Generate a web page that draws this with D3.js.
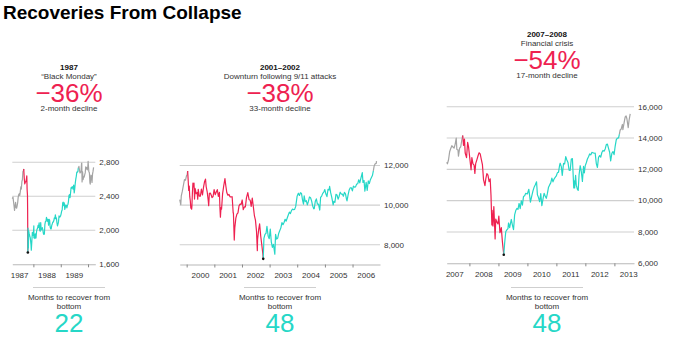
<!DOCTYPE html>
<html>
<head>
<meta charset="utf-8">
<script src="https://cdn.jsdelivr.net/npm/d3@7"></script>
<style>
  body { margin: 0; background: #fff; }
  svg { font-family: 'Liberation Sans', Arial, sans-serif; }
</style>
</head>
<body>
<svg id="chart" width="680" height="340"></svg>
<script>
/* global d3 */

/* ***
  data: Dow Jones closes, [date, value]
*** */
const dow1987 = [
  ['1987-03-25', 2372], ['1987-04-03', 2390], ['1987-04-10', 2340], ['1987-04-17', 2290],
  ['1987-04-24', 2235], ['1987-05-01', 2286], ['1987-05-08', 2330], ['1987-05-15', 2270],
  ['1987-05-22', 2260], ['1987-05-29', 2290], ['1987-06-05', 2326], ['1987-06-12', 2390],
  ['1987-06-19', 2420], ['1987-06-26', 2430], ['1987-07-03', 2410], ['1987-07-10', 2455],
  ['1987-07-17', 2510], ['1987-07-24', 2485], ['1987-07-31', 2572], ['1987-08-07', 2595],
  ['1987-08-14', 2690], ['1987-08-21', 2700], ['1987-08-25', 2722], ['1987-09-01', 2610],
  ['1987-09-08', 2545], ['1987-09-15', 2570], ['1987-09-22', 2570], ['1987-09-29', 2600],
  ['1987-10-05', 2640], ['1987-10-09', 2482], ['1987-10-14', 2412], ['1987-10-16', 2246],
  ['1987-10-19', 1739], ['1987-10-21', 2027], ['1987-10-26', 1793], ['1987-10-30', 1994],
  ['1987-11-06', 1960], ['1987-11-13', 1935], ['1987-11-20', 1914], ['1987-11-30', 1834],
  ['1987-12-04', 1766], ['1987-12-11', 1867], ['1987-12-18', 1975], ['1987-12-31', 1939],
  ['1988-01-07', 2051], ['1988-01-08', 1911], ['1988-01-15', 1956], ['1988-01-22', 1903],
  ['1988-01-29', 1958], ['1988-02-05', 1910], ['1988-02-12', 1983], ['1988-02-19', 2014],
  ['1988-02-26', 2023], ['1988-03-04', 2057], ['1988-03-11', 2034], ['1988-03-18', 2087],
  ['1988-03-25', 2000], ['1988-04-01', 1988], ['1988-04-08', 2090], ['1988-04-14', 2005],
  ['1988-04-22', 2015], ['1988-04-29', 2032], ['1988-05-06', 2007], ['1988-05-13', 1965],
  ['1988-05-20', 1952], ['1988-05-27', 1956], ['1988-06-03', 2071], ['1988-06-10', 2102],
  ['1988-06-17', 2105], ['1988-06-24', 2153], ['1988-07-01', 2131], ['1988-07-08', 2106],
  ['1988-07-15', 2130], ['1988-07-22', 2060], ['1988-07-29', 2128], ['1988-08-05', 2120],
  ['1988-08-12', 2039], ['1988-08-19', 2016], ['1988-08-26', 2017], ['1988-09-02', 2055],
  ['1988-09-09', 2074], ['1988-09-16', 2096], ['1988-09-23', 2097], ['1988-09-30', 2112],
  ['1988-10-07', 2145], ['1988-10-14', 2137], ['1988-10-21', 2183], ['1988-10-28', 2136],
  ['1988-11-04', 2145], ['1988-11-11', 2090], ['1988-11-18', 2052], ['1988-11-25', 2074],
  ['1988-12-02', 2102], ['1988-12-09', 2170], ['1988-12-16', 2154], ['1988-12-23', 2160],
  ['1988-12-30', 2169], ['1989-01-06', 2194], ['1989-01-13', 2226], ['1989-01-20', 2239],
  ['1989-01-27', 2322], ['1989-02-03', 2331], ['1989-02-10', 2291], ['1989-02-17', 2324],
  ['1989-02-24', 2245], ['1989-03-03', 2274], ['1989-03-10', 2300], ['1989-03-17', 2292],
  ['1989-03-24', 2263], ['1989-03-31', 2294], ['1989-04-07', 2304], ['1989-04-14', 2338],
  ['1989-04-21', 2409], ['1989-04-28', 2419], ['1989-05-05', 2383], ['1989-05-12', 2439],
  ['1989-05-19', 2501], ['1989-05-26', 2493], ['1989-06-02', 2514], ['1989-06-09', 2505],
  ['1989-06-16', 2483], ['1989-06-23', 2531], ['1989-06-30', 2440], ['1989-07-07', 2487],
  ['1989-07-14', 2555], ['1989-07-21', 2601], ['1989-07-28', 2636], ['1989-08-04', 2686],
  ['1989-08-11', 2683], ['1989-08-18', 2690], ['1989-08-24', 2734], ['1989-09-01', 2752],
  ['1989-09-08', 2709], ['1989-09-15', 2674], ['1989-09-22', 2681], ['1989-09-29', 2693],
  ['1989-10-06', 2785], ['1989-10-09', 2791], ['1989-10-13', 2569], ['1989-10-20', 2689],
  ['1989-10-27', 2597], ['1989-11-03', 2630], ['1989-11-10', 2625], ['1989-11-17', 2652],
  ['1989-11-24', 2675], ['1989-12-01', 2747], ['1989-12-08', 2722], ['1989-12-15', 2739],
  ['1989-12-22', 2711], ['1989-12-29', 2753], ['1990-01-02', 2810], ['1990-01-12', 2689],
  ['1990-01-19', 2677], ['1990-01-26', 2560], ['1990-01-30', 2543], ['1990-02-09', 2649],
  ['1990-02-16', 2636], ['1990-02-23', 2564], ['1990-03-02', 2660], ['1990-03-09', 2696],
  ['1990-03-16', 2741],
];

const dow2000 = [
  ['1999-10-01', 10273], ['1999-10-15', 10019], ['1999-10-22', 10470], ['1999-11-05', 10704],
  ['1999-11-19', 11003], ['1999-12-03', 11286], ['1999-12-17', 11257], ['1999-12-31', 11497],
  ['2000-01-07', 11522], ['2000-01-14', 11723], ['2000-01-21', 11252], ['2000-01-28', 10739],
  ['2000-02-04', 10963], ['2000-02-11', 10425], ['2000-02-18', 10219], ['2000-02-25', 9862],
  ['2000-03-07', 9796], ['2000-03-10', 9929], ['2000-03-17', 10630], ['2000-03-24', 11112],
  ['2000-03-31', 10922], ['2000-04-07', 11111], ['2000-04-14', 10305], ['2000-04-21', 10844],
  ['2000-04-28', 10734], ['2000-05-05', 10577], ['2000-05-12', 10609], ['2000-05-19', 10627],
  ['2000-05-26', 10300], ['2000-06-02', 10794], ['2000-06-16', 10449], ['2000-06-30', 10448],
  ['2000-07-14', 10812], ['2000-07-28', 10512], ['2000-08-11', 10908], ['2000-08-25', 11193],
  ['2000-09-06', 11310], ['2000-09-15', 10927], ['2000-09-29', 10651], ['2000-10-13', 10192],
  ['2000-10-18', 9975], ['2000-10-27', 10590], ['2000-11-10', 10603], ['2000-11-24', 10470],
  ['2000-12-01', 10373], ['2000-12-15', 10434], ['2000-12-29', 10787], ['2001-01-12', 10525],
  ['2001-01-26', 10659], ['2001-02-09', 10781], ['2001-02-23', 10441], ['2001-03-09', 10644],
  ['2001-03-16', 9823], ['2001-03-22', 9389], ['2001-03-30', 9879], ['2001-04-06', 9792],
  ['2001-04-20', 10579], ['2001-05-04', 10952], ['2001-05-21', 11337], ['2001-06-01', 10990],
  ['2001-06-15', 10623], ['2001-06-29', 10502], ['2001-07-13', 10539], ['2001-07-27', 10416],
  ['2001-08-10', 10416], ['2001-08-24', 10423], ['2001-09-07', 9605], ['2001-09-10', 9606],
  ['2001-09-21', 8236], ['2001-09-28', 8848], ['2001-10-12', 9344], ['2001-10-26', 9545],
  ['2001-11-09', 9608], ['2001-11-23', 9959], ['2001-12-07', 10049], ['2001-12-21', 10035],
  ['2002-01-04', 10259], ['2002-01-18', 9772], ['2002-02-01', 9907], ['2002-02-15', 9903],
  ['2002-03-01', 10368], ['2002-03-19', 10635], ['2002-04-05', 10271], ['2002-04-19', 10257],
  ['2002-05-03', 9939], ['2002-05-17', 10353], ['2002-05-31', 9925], ['2002-06-14', 9474],
  ['2002-06-28', 9243], ['2002-07-12', 8684], ['2002-07-23', 7702], ['2002-07-26', 8264],
  ['2002-08-09', 8745], ['2002-08-22', 9053], ['2002-09-06', 8427], ['2002-09-20', 7986],
  ['2002-10-04', 7528], ['2002-10-09', 7286], ['2002-10-18', 8322], ['2002-11-01', 8517],
  ['2002-11-15', 8579], ['2002-11-27', 8931], ['2002-12-13', 8433], ['2002-12-27', 8304],
  ['2003-01-10', 8785], ['2003-01-24', 8132], ['2003-02-07', 7864], ['2003-02-21', 8018],
  ['2003-03-11', 7524], ['2003-03-21', 8522], ['2003-04-04', 8277], ['2003-04-18', 8337],
  ['2003-05-02', 8583], ['2003-05-16', 8713], ['2003-05-30', 8850], ['2003-06-13', 9117],
  ['2003-06-27', 9011], ['2003-07-11', 9119], ['2003-07-25', 9284], ['2003-08-08', 9191],
  ['2003-08-22', 9348], ['2003-09-05', 9503], ['2003-09-19', 9644], ['2003-10-03', 9573],
  ['2003-10-17', 9721], ['2003-10-31', 9801], ['2003-11-14', 9768], ['2003-11-28', 9782],
  ['2003-12-12', 9934], ['2003-12-31', 10454], ['2004-01-16', 10600], ['2004-01-30', 10488],
  ['2004-02-13', 10627], ['2004-02-27', 10584], ['2004-03-12', 10240], ['2004-03-24', 10048],
  ['2004-04-02', 10470], ['2004-04-16', 10176], ['2004-04-30', 10226], ['2004-05-14', 10012],
  ['2004-05-28', 10188], ['2004-06-11', 10410], ['2004-06-25', 10371], ['2004-07-09', 10213],
  ['2004-07-23', 9962], ['2004-08-06', 9815], ['2004-08-13', 9825], ['2004-08-27', 10195],
  ['2004-09-10', 10314], ['2004-09-24', 10047], ['2004-10-08', 10055], ['2004-10-25', 9750],
  ['2004-11-05', 10387], ['2004-11-19', 10456], ['2004-12-03', 10592], ['2004-12-17', 10661],
  ['2004-12-31', 10783], ['2005-01-14', 10558], ['2005-01-28', 10427], ['2005-02-11', 10796],
  ['2005-02-25', 10766], ['2005-03-04', 10941], ['2005-03-18', 10629], ['2005-04-01', 10404],
  ['2005-04-20', 10012], ['2005-04-29', 10193], ['2005-05-13', 10140], ['2005-05-27', 10542],
  ['2005-06-10', 10512], ['2005-06-24', 10297], ['2005-07-08', 10449], ['2005-07-22', 10651],
  ['2005-08-05', 10558], ['2005-08-19', 10559], ['2005-09-02', 10447], ['2005-09-16', 10641],
  ['2005-09-30', 10568], ['2005-10-14', 10288], ['2005-10-20', 10215], ['2005-11-04', 10530],
  ['2005-11-18', 10766], ['2005-12-02', 10877], ['2005-12-16', 10875], ['2005-12-30', 10718],
  ['2006-01-13', 10959], ['2006-01-27', 10907], ['2006-02-10', 10919], ['2006-02-24', 11061],
  ['2006-03-10', 11076], ['2006-03-24', 11280], ['2006-04-07', 11120], ['2006-04-21', 11347],
  ['2006-05-10', 11642], ['2006-05-19', 11144], ['2006-06-02', 11247], ['2006-06-13', 10706],
  ['2006-06-30', 11150], ['2006-07-14', 10739], ['2006-07-28', 11219], ['2006-08-11', 11088],
  ['2006-08-25', 11284], ['2006-09-08', 11393], ['2006-09-22', 11508], ['2006-10-03', 11727],
  ['2006-10-13', 11960], ['2006-10-27', 12090], ['2006-11-10', 12108], ['2006-11-14', 12218],
];

const dow2008 = [
  ['2007-03-21', 12447], ['2007-03-30', 12354], ['2007-04-13', 12612], ['2007-04-27', 13120],
  ['2007-05-11', 13327], ['2007-05-25', 13507], ['2007-06-08', 13424], ['2007-06-22', 13360],
  ['2007-07-06', 13611], ['2007-07-19', 14000], ['2007-07-27', 13265], ['2007-08-10', 13239],
  ['2007-08-16', 12845], ['2007-08-31', 13357], ['2007-09-14', 13442], ['2007-09-28', 13896],
  ['2007-10-09', 14164], ['2007-10-19', 13522], ['2007-10-31', 13930], ['2007-11-09', 13042],
  ['2007-11-26', 12743], ['2007-12-10', 13727], ['2007-12-21', 13450], ['2008-01-04', 12800],
  ['2008-01-22', 11971], ['2008-02-01', 12743], ['2008-02-15', 12348], ['2008-02-29', 12266],
  ['2008-03-10', 11740], ['2008-03-20', 12361], ['2008-04-04', 12609], ['2008-04-18', 12849],
  ['2008-05-02', 13058], ['2008-05-16', 12986], ['2008-05-30', 12638], ['2008-06-13', 12307],
  ['2008-06-27', 11346], ['2008-07-15', 10963], ['2008-07-25', 11371], ['2008-08-08', 11734],
  ['2008-08-22', 11628], ['2008-09-05', 11220], ['2008-09-19', 11388], ['2008-09-29', 10365],
  ['2008-10-10', 8451], ['2008-10-13', 9387], ['2008-10-24', 8378], ['2008-11-04', 9625],
  ['2008-11-20', 7552], ['2008-11-28', 8829], ['2008-12-12', 8629], ['2008-12-26', 8515],
  ['2009-01-06', 9015], ['2009-01-20', 7950], ['2009-02-06', 8280], ['2009-02-20', 7365],
  ['2009-03-09', 6547], ['2009-03-20', 7278], ['2009-04-03', 8017], ['2009-04-17', 8131],
  ['2009-05-01', 8212], ['2009-05-08', 8575], ['2009-05-22', 8277], ['2009-06-12', 8799],
  ['2009-06-26', 8438], ['2009-07-10', 8146], ['2009-07-24', 9093], ['2009-08-07', 9370],
  ['2009-08-21', 9505], ['2009-09-04', 9441], ['2009-09-18', 9820], ['2009-10-02', 9487],
  ['2009-10-16', 9995], ['2009-10-30', 9713], ['2009-11-13', 10270], ['2009-11-27', 10310],
  ['2009-12-11', 10471], ['2009-12-31', 10428], ['2010-01-19', 10725], ['2010-02-08', 9908],
  ['2010-02-26', 10325], ['2010-03-12', 10625], ['2010-03-26', 10850], ['2010-04-09', 10997],
  ['2010-04-26', 11205], ['2010-05-07', 10380], ['2010-05-21', 10193], ['2010-06-04', 9931],
  ['2010-06-18', 10450], ['2010-07-02', 9686], ['2010-07-16', 10098], ['2010-07-30', 10466],
  ['2010-08-13', 10303], ['2010-08-27', 10150], ['2010-09-10', 10462], ['2010-09-24', 10860],
  ['2010-10-08', 11006], ['2010-10-22', 11133], ['2010-11-05', 11444], ['2010-11-19', 11204],
  ['2010-12-03', 11382], ['2010-12-17', 11491], ['2010-12-31', 11578], ['2011-01-14', 11787],
  ['2011-01-28', 11824], ['2011-02-11', 12273], ['2011-02-18', 12391], ['2011-03-04', 12170],
  ['2011-03-16', 11613], ['2011-04-01', 12376], ['2011-04-15', 12342], ['2011-04-29', 12811],
  ['2011-05-13', 12596], ['2011-05-27', 12442], ['2011-06-10', 11952], ['2011-06-24', 11934],
  ['2011-07-08', 12657], ['2011-07-22', 12681], ['2011-08-08', 10810], ['2011-08-12', 11269],
  ['2011-08-19', 10818], ['2011-08-31', 11614], ['2011-09-09', 10992], ['2011-09-22', 10734],
  ['2011-10-03', 10655], ['2011-10-14', 11644], ['2011-10-28', 12231], ['2011-11-10', 11893],
  ['2011-11-25', 11231], ['2011-12-09', 12184], ['2011-12-19', 11766], ['2011-12-30', 12218],
  ['2012-01-13', 12422], ['2012-01-27', 12660], ['2012-02-10', 12801], ['2012-02-24', 12983],
  ['2012-03-09', 12922], ['2012-03-23', 13081], ['2012-04-06', 13060], ['2012-04-20', 13029],
  ['2012-05-04', 13038], ['2012-05-18', 12369], ['2012-06-01', 12119], ['2012-06-15', 12767],
  ['2012-06-29', 12880], ['2012-07-13', 12777], ['2012-07-27', 13075], ['2012-08-10', 13207],
  ['2012-08-24', 13158], ['2012-09-07', 13306], ['2012-09-21', 13579], ['2012-10-05', 13610],
  ['2012-10-19', 13343], ['2012-11-02', 13093], ['2012-11-15', 12543], ['2012-11-30', 13025],
  ['2012-12-14', 13135], ['2012-12-28', 12938], ['2013-01-11', 13488], ['2013-01-25', 13895],
  ['2013-02-08', 13992], ['2013-02-22', 14000], ['2013-03-05', 14253], ['2013-03-15', 14514],
  ['2013-03-28', 14578], ['2013-04-12', 14865], ['2013-04-18', 14537], ['2013-05-03', 14973],
  ['2013-05-17', 15354], ['2013-05-28', 15409], ['2013-06-07', 15248], ['2013-06-24', 14660],
  ['2013-07-05', 15136], ['2013-07-19', 15543],
];

const series = [dow1987, dow2000, dow2008];

// headers and stats
const crisisYears = ['1987', '2001–2002', '2007–2008'];
const crisisNames = ['“Black Monday”', 'Downturn following 9/11 attacks', 'Financial crisis'];
const crisisDrops = ['−36%', '−38%', '−54%'];
const crisisDeclines = ['2-month decline', '33-month decline', '17-month decline'];
const monthsToRecover = ['22', '48', '48'];

// peak, bottom, back above the old peak
const peakDates = ['1987-08-25', '2000-01-14', '2007-10-09'];
const bottomDates = ['1987-10-19', '2002-10-09', '2009-03-09'];
const recoveryDates = ['1989-08-24', '2006-10-03', '2013-03-05'];

// axes
const xDomains = [
  ['1987-03-25', '1990-04-08'],
  ['1999-10-01', '2006-12-30'],
  ['2007-03-21', '2013-09-05'],
];
const yDomains = [[1600, 2800], [7000, 12000], [6000, 16000]];
const yTicks = [
  [1600, 2000, 2400, 2800],
  [8000, 10000, 12000],
  [6000, 8000, 10000, 12000, 14000, 16000],
];

/* ***
  layout and style
*** */
const layout = [
  { left: 12.3, right: 95.3, top: 162.3, bottom: 264.3, head: 69.5, center: 69 },
  { left: 179.7, right: 380, top: 165.5, bottom: 264.5, head: 69.5, center: 280 },
  { left: 446.7, right: 634, top: 106.7, bottom: 263.3, head: 36.5, center: 547 },
];

const colors = {
  before: '#a4a4a4',
  fall: '#ee2150',
  rise: '#26d7c7',
  grid: '#cfcfcf',
  axis: '#b8b8b8',
  text: '#333',
};

const parse = d3.timeParse('%Y-%m-%d');
const svg = d3.select('#chart');

svg.append('text')
  .attr('x', 3)
  .attr('y', 18.5)
  .attr('font-size', 19)
  .attr('font-weight', 'bold')
  .attr('fill', '#000')
  .text('Recoveries From Collapse');

function drawPanel(i) {
  const L = layout[i];
  const data = series[i].map(d => ({ date: parse(d[0]), value: d[1] }));
  const x = d3.scaleTime()
    .domain(xDomains[i].map(parse))
    .range([L.left, L.right]);
  const y = d3.scaleLinear()
    .domain(yDomains[i])
    .range([L.bottom, L.top]);
  const g = svg.append('g');

  // gridlines, the lowest value sits on the axis
  g.selectAll('line.grid')
    .data(yTicks[i].filter(t => t > yDomains[i][0]))
    .enter().append('line')
    .attr('class', 'grid')
    .attr('x1', L.left)
    .attr('x2', L.right)
    .attr('y1', d => y(d))
    .attr('y2', d => y(d))
    .attr('stroke', colors.grid)
    .attr('stroke-width', 1.1);

  g.selectAll('text.ylab')
    .data(yTicks[i])
    .enter().append('text')
    .attr('class', 'ylab')
    .attr('x', L.right + 4)
    .attr('y', d => y(d))
    .attr('dy', '0.35em')
    .attr('font-size', 8)
    .attr('fill', colors.text)
    .text(d3.format(','));

  // x axis: ticks on year boundaries, labels in the middle of the year
  const axis = g.append('g')
    .attr('transform', `translate(0,${L.bottom})`)
    .call(d3.axisBottom(x)
      .tickValues(x.ticks(d3.timeYear))
      .tickSize(3)
      .tickSizeOuter(0)
      .tickFormat(''));
  axis.select('.domain').attr('stroke', colors.axis).attr('stroke-width', 1.1);
  axis.selectAll('.tick line').attr('stroke', '#888');

  const [d0, d1] = x.domain();
  const midYears = d3.timeYear.range(d3.timeYear.floor(d0), d1)
    .map(yr => d3.timeMonth.offset(yr, 6))
    .filter(m => m >= d0 && m <= d1);

  g.selectAll('text.xlab')
    .data(midYears)
    .enter().append('text')
    .attr('class', 'xlab')
    .attr('x', d => x(d))
    .attr('y', L.bottom + 13.5)
    .attr('text-anchor', 'middle')
    .attr('font-size', 8)
    .attr('fill', colors.text)
    .text(d3.timeFormat('%Y'));

  // line in four pieces: before peak, decline, recovery, after
  const peak = parse(peakDates[i]);
  const bottom = parse(bottomDates[i]);
  const recovered = parse(recoveryDates[i]);
  const pieces = [
    { color: colors.before, pts: data.filter(d => d.date <= peak) },
    { color: colors.fall, pts: data.filter(d => d.date >= peak && d.date <= bottom) },
    { color: colors.rise, pts: data.filter(d => d.date >= bottom && d.date <= recovered) },
    { color: colors.before, pts: data.filter(d => d.date >= recovered) },
  ];
  const line = d3.line()
    .x(d => x(d.date))
    .y(d => y(d.value));

  g.selectAll('path.series')
    .data(pieces)
    .enter().append('path')
    .attr('class', 'series')
    .attr('d', d => line(d.pts))
    .attr('fill', 'none')
    .attr('stroke', d => d.color)
    .attr('stroke-width', 1.2)
    .attr('stroke-linejoin', 'round');

  const low = data.find(d => +d.date === +bottom);

  g.append('circle')
    .attr('cx', x(low.date))
    .attr('cy', y(low.value))
    .attr('r', 1.3)
    .attr('fill', '#111');

  // header above the chart
  const head = g.append('g')
    .attr('text-anchor', 'middle')
    .attr('fill', colors.text);

  head.append('text')
    .attr('x', L.center)
    .attr('y', L.head)
    .attr('font-size', 8)
    .attr('font-weight', 'bold')
    .attr('fill', '#111')
    .text(crisisYears[i]);
  head.append('text')
    .attr('x', L.center)
    .attr('y', L.head + 9)
    .attr('font-size', 8)
    .text(crisisNames[i]);
  head.append('text')
    .attr('x', L.center)
    .attr('y', L.head + 32.2)
    .attr('font-size', 26)
    .attr('fill', colors.fall)
    .text(crisisDrops[i]);
  head.append('text')
    .attr('x', L.center)
    .attr('y', L.head + 41.8)
    .attr('font-size', 8)
    .text(crisisDeclines[i]);

  // recovery stat below the chart
  const foot = g.append('g')
    .attr('text-anchor', 'middle')
    .attr('fill', colors.text);

  foot.append('line')
    .attr('x1', L.center - 36)
    .attr('x2', L.center + 36)
    .attr('y1', 287.5)
    .attr('y2', 287.5)
    .attr('stroke', colors.grid)
    .attr('stroke-width', 1.1);
  foot.append('text')
    .attr('x', L.center)
    .attr('y', 300)
    .attr('font-size', 8)
    .text('Months to recover from');
  foot.append('text')
    .attr('x', L.center)
    .attr('y', 308.5)
    .attr('font-size', 8)
    .text('bottom');
  foot.append('text')
    .attr('x', L.center)
    .attr('y', 331.5)
    .attr('font-size', 26)
    .attr('fill', colors.rise)
    .text(monthsToRecover[i]);
}

series.forEach((s, i) => drawPanel(i));
</script>
</body>
</html>
